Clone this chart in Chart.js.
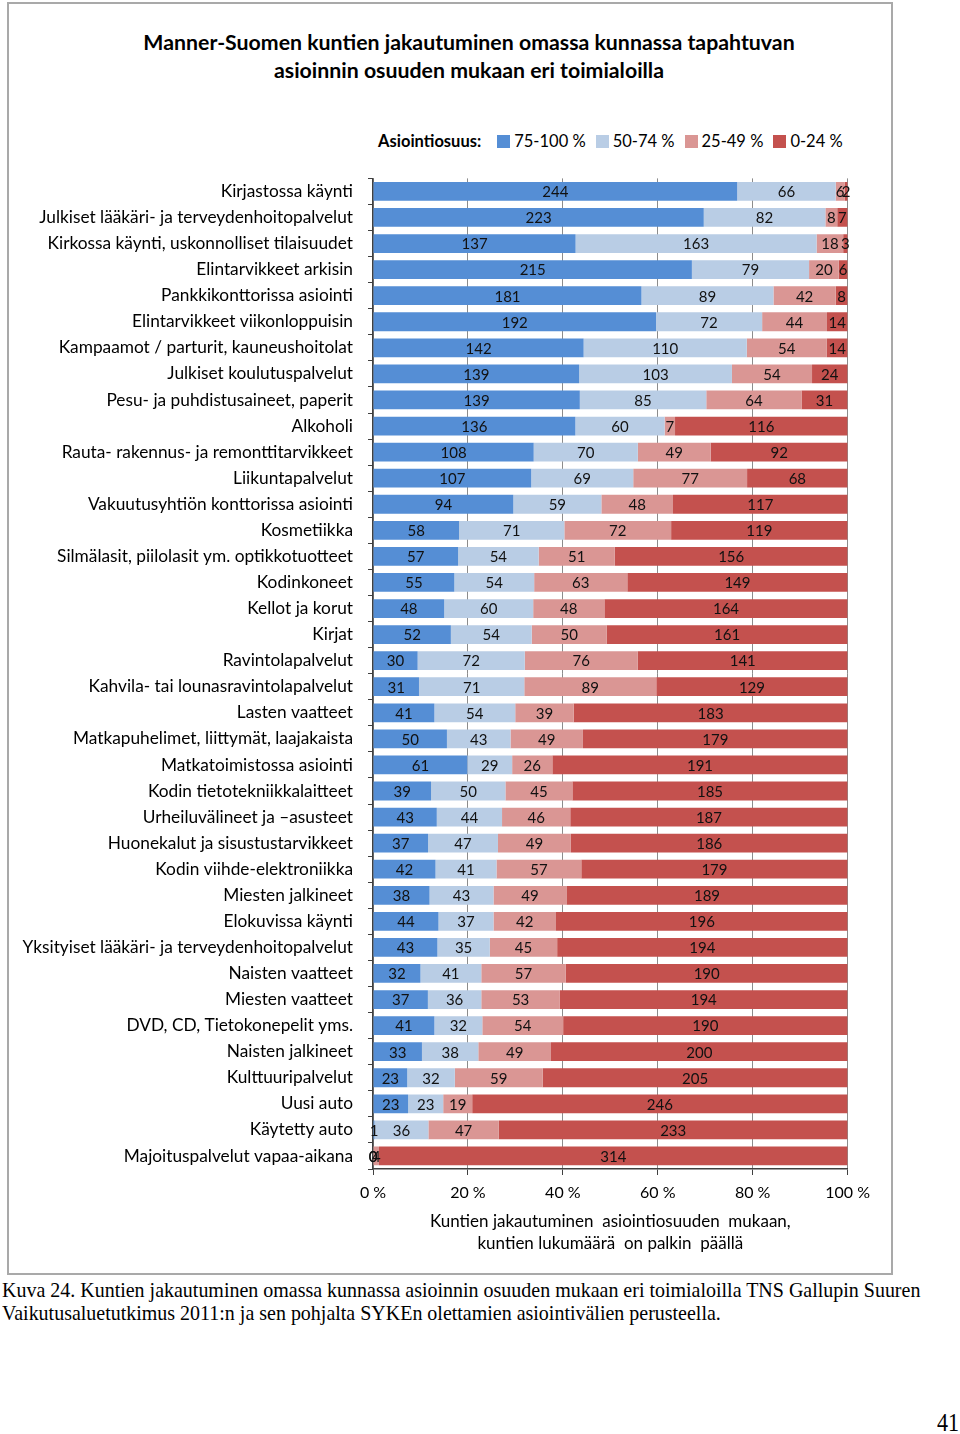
<!DOCTYPE html>
<html>
<head>
<meta charset="utf-8">
<script src="https://cdn.jsdelivr.net/npm/chart.js@4.4.1/dist/chart.umd.min.js"></script>
<style>
  body { margin: 0; background: #fff; width: 960px; height: 1434px; position: relative; font-family: Lato, sans-serif; color: #000; }
  #kehys { position: absolute; left: 7px; top: 2px; width: 886px; height: 1273px; border: 2px solid #a9a9a9; box-sizing: border-box; }
  #otsikko { position: absolute; left: 0; top: 28px; width: 938px; text-align: center; font-weight: bold; font-size: 21.3px; line-height: 28px; }
  #selite { position: absolute; left: 378px; top: 131px; font-size: 16.5px; white-space: nowrap; display: flex; align-items: center; }
  #selite b { margin-right: 16px; }
  .laatikko { display: inline-block; width: 13px; height: 13px; margin-right: 4px; }
  .kohta { display: inline-flex; align-items: center; margin-right: 10px; }
  #alue { position: absolute; left: 12px; top: 153px; width: 866px; height: 1117px; }
  #kuvateksti { position: absolute; left: 2px; top: 1278px; font-family: "Liberation Serif", serif; font-size: 22px; line-height: 23px; transform: scaleX(0.908); transform-origin: left top; white-space: nowrap; }
  #sivu { position: absolute; left: 937px; top: 1408px; font-family: "Liberation Serif", serif; font-size: 26px; transform: scaleX(0.85); transform-origin: left top; }
</style>
</head>
<body>
<div id="kehys"></div>
<div id="otsikko">Manner-Suomen kuntien jakautuminen omassa kunnassa tapahtuvan<br>asioinnin osuuden mukaan eri toimialoilla</div>
<div id="selite"><b>Asiointiosuus:</b></div>
<div id="alue"><canvas id="kaavio"></canvas></div>
<div id="kuvateksti">Kuva 24. Kuntien jakautuminen omassa kunnassa asioinnin osuuden mukaan eri toimialoilla TNS Gallupin Suuren<br>Vaikutusaluetutkimus 2011:n ja sen pohjalta SYKEn olettamien asiointivälien perusteella.</div>
<div id="sivu">41</div>
<script>
const toimialat = [
    'Kirjastossa käynti',
    'Julkiset lääkäri- ja terveydenhoitopalvelut',
    'Kirkossa käynti, uskonnolliset tilaisuudet',
    'Elintarvikkeet arkisin',
    'Pankkikonttorissa asiointi',
    'Elintarvikkeet viikonloppuisin',
    'Kampaamot / parturit, kauneushoitolat',
    'Julkiset koulutuspalvelut',
    'Pesu- ja puhdistusaineet, paperit',
    'Alkoholi',
    'Rauta- rakennus- ja remonttitarvikkeet',
    'Liikuntapalvelut',
    'Vakuutusyhtiön konttorissa asiointi',
    'Kosmetiikka',
    'Silmälasit, piilolasit ym. optikkotuotteet',
    'Kodinkoneet',
    'Kellot ja korut',
    'Kirjat',
    'Ravintolapalvelut',
    'Kahvila- tai lounasravintolapalvelut',
    'Lasten vaatteet',
    'Matkapuhelimet, liittymät, laajakaista',
    'Matkatoimistossa asiointi',
    'Kodin tietotekniikkalaitteet',
    'Urheiluvälineet ja –asusteet',
    'Huonekalut ja sisustustarvikkeet',
    'Kodin viihde-elektroniikka',
    'Miesten jalkineet',
    'Elokuvissa käynti',
    'Yksityiset lääkäri- ja terveydenhoitopalvelut',
    'Naisten vaatteet',
    'Miesten vaatteet',
    'DVD, CD, Tietokonepelit yms.',
    'Naisten jalkineet',
    'Kulttuuripalvelut',
    'Uusi auto',
    'Käytetty auto',
    'Majoituspalvelut vapaa-aikana'
];

// kuntien lukumäärät asiointiosuusluokittain
const osuus75_100 = [244, 223, 137, 215, 181, 192, 142, 139, 139, 136, 108, 107, 94, 58, 57, 55, 48, 52, 30, 31, 41, 50, 61, 39, 43, 37, 42, 38, 44, 43, 32, 37, 41, 33, 23, 23, 1, 0];
const osuus50_74 = [66, 82, 163, 79, 89, 72, 110, 103, 85, 60, 70, 69, 59, 71, 54, 54, 60, 54, 72, 71, 54, 43, 29, 50, 44, 47, 41, 43, 37, 35, 41, 36, 32, 38, 32, 23, 36, 0];
const osuus25_49 = [6, 8, 18, 20, 42, 44, 54, 54, 64, 7, 49, 77, 48, 72, 51, 63, 48, 50, 76, 89, 39, 49, 26, 45, 46, 49, 57, 49, 42, 45, 57, 53, 54, 49, 59, 19, 47, 4];
const osuus0_24 = [2, 7, 3, 6, 8, 14, 14, 24, 31, 116, 92, 68, 117, 119, 156, 149, 164, 161, 141, 129, 183, 179, 191, 185, 187, 186, 179, 189, 196, 194, 190, 194, 190, 200, 205, 246, 233, 314];

const sarjat = ['75-100 %', '50-74 %', '25-49 %', '0-24 %'];
const varit = ['#558ed5', '#b9cde5', '#da9694', '#c4514e'];
const xTikit = [0, 20, 40, 60, 80, 100];

const kaikki = [osuus75_100, osuus50_74, osuus25_49, osuus0_24];
const summat = toimialat.map((_, j) => kaikki.reduce((s, a) => s + a[j], 0));

const datasets = kaikki.map((arr, i) => ({
    label: sarjat[i],
    lukumaarat: arr,
    data: arr.map((v, j) => v / summat[j] * 100),
    backgroundColor: varit[i],
    borderWidth: 0,
    categoryPercentage: 1,
    barPercentage: 0.72
}));

// selite html:nä
const selite = document.getElementById('selite');
sarjat.forEach((s, i) => {
    const span = document.createElement('span');
    span.className = 'kohta';
    span.innerHTML = `<span class="laatikko" style="background:${varit[i]}"></span>${s}`;
    selite.appendChild(span);
});

const arvoTekstit = {
    id: 'arvoTekstit',
    afterDatasetsDraw(chart) {
        const ctx = chart.ctx;
        ctx.save();
        ctx.font = '15px Lato';
        ctx.fillStyle = '#111';
        ctx.textAlign = 'center';
        ctx.textBaseline = 'middle';
        chart.data.datasets.forEach((ds, i) => {
            chart.getDatasetMeta(i).data.forEach((bar, j) => {
                ctx.fillText(ds.lukumaarat[j], (bar.x + bar.base) / 2, bar.y + 1);
            });
        });
        ctx.restore();
    }
};

new Chart(document.getElementById('kaavio'), {
    type: 'bar',
    data: { labels: toimialat, datasets },
    options: {
        indexAxis: 'y',
        responsive: true,
        maintainAspectRatio: false,
        animation: false,
        layout: { padding: { top: 8, right: 30, bottom: 0, left: 0 } },
        plugins: {
            legend: { display: false },
            tooltip: { enabled: false }
        },
        scales: {
            x: {
                stacked: true,
                min: 0,
                max: 100,
                afterBuildTicks: (s) => { s.ticks = xTikit.map(v => ({ value: v })); },
                afterFit: (s) => { s.height = 101; },
                grid: { color: '#8c8c8c', tickColor: '#404040', tickLength: 6 },
                border: { color: '#404040', width: 1.5 },
                ticks: {
                    padding: 8,
                    color: '#000',
                    font: { family: 'Lato', size: 16 },
                    callback: (v) => v + ' %'
                },
                title: {
                    display: true,
                    text: ['Kuntien jakautuminen  asiointiosuuden  mukaan,', 'kuntien lukumäärä  on palkin  päällä'],
                    color: '#000',
                    font: { family: 'Lato', size: 17, lineHeight: 1.3 },
                    padding: { top: 0, bottom: 15 }
                }
            },
            y: {
                stacked: true,
                afterFit: (s) => { s.width = 361; },
                grid: { drawOnChartArea: false, tickColor: '#404040', tickLength: 5 },
                border: { color: '#404040', width: 1.5 },
                ticks: {
                    padding: 15,
                    color: '#000',
                    autoSkip: false,
                    font: { family: 'Lato', size: 17.3 }
                }
            }
        }
    },
    plugins: [arvoTekstit]
});
</script>
</body>
</html>
